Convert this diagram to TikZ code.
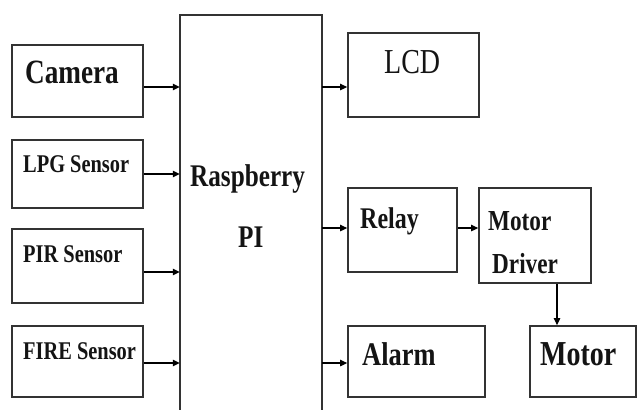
\documentclass[tikz,border=0pt]{standalone}
\usepackage{fontspec}
\usepackage{graphicx}
\setmainfont{LiberationSerif}[Extension=.ttf, UprightFont=*-Regular, BoldFont=*-Bold, ItalicFont=*-Italic, BoldItalicFont=*-BoldItalic]
\usetikzlibrary{arrows.meta}
\definecolor{boxline}{HTML}{333333}
\definecolor{txt}{HTML}{141414}
\newcommand{\nw}[1]{\scalebox{0.8}[1]{#1}}
\tikzset{
  blk/.style={draw=boxline, line width=1.8pt, rectangle, inner sep=0pt},
  arr/.style={draw=black, line width=1.3pt, -{Triangle[length=7pt,width=6.5pt]}},
  lbl/.style={anchor=base west, inner sep=0pt, text=txt, font=\bfseries},
}
\begin{document}
\begin{tikzpicture}[x=1pt,y=-1pt]
\useasboundingbox (0,0) rectangle (638,410);
\fill[white] (0,0) rectangle (638,410);
% boxes
\node[blk, minimum width=131, minimum height=72] (cam) at (77.5,81) {};
\node[blk, minimum width=131, minimum height=68] (lpg) at (77.5,174) {};
\node[blk, minimum width=131, minimum height=74] (pir) at (77.5,266) {};
\node[blk, minimum width=131, minimum height=71] (fire) at (77.5,361.5) {};
\node[inner sep=0pt, minimum width=142, minimum height=400] (rpi) at (251,215) {};
\draw[boxline, line width=1.8pt] (rpi.south west) -- (rpi.north west) -- (rpi.north east) -- (rpi.south east);
\node[blk, minimum width=131, minimum height=84] (lcd) at (413.5,75) {};
\node[blk, minimum width=109, minimum height=84] (relay) at (402.5,230) {};
\node[blk, minimum width=112, minimum height=95] (drv) at (535,235.5) {};
\node[blk, minimum width=137, minimum height=71] (alarm) at (416.5,361.5) {};
\node[blk, minimum width=106, minimum height=71] (motor) at (583,361.5) {};
% labels
\node[lbl, font=\bfseries\fontsize{34}{34}\selectfont] (tcam) at (25,83) {\nw{Camera}};
\node[lbl, font=\bfseries\fontsize{25.5}{25.5}\selectfont] (tlpg) at (23,172) {\nw{LPG Sensor}};
\node[lbl, font=\bfseries\fontsize{25.5}{25.5}\selectfont] (tpir) at (23,262) {\nw{PIR Sensor}};
\node[lbl, font=\bfseries\fontsize{25.5}{25.5}\selectfont] (tfire) at (23,359) {\nw{FIRE Sensor}};
\node[lbl, font=\bfseries\fontsize{31.5}{31.5}\selectfont] (trasp) at (190,186) {\nw{Raspberry}};
\node[lbl, font=\bfseries\fontsize{31.5}{31.5}\selectfont] (tpi) at (238,247) {\nw{PI}};
\node[lbl, font=\fontsize{35}{35}\selectfont] (tlcd) at (384,73) {\nw{LCD}};
\node[lbl, font=\bfseries\fontsize{30}{30}\selectfont] (trelay) at (360,228) {\nw{Relay}};
\node[lbl, font=\bfseries\fontsize{29}{29}\selectfont] (tmot1) at (488,230) {\nw{Motor}};
\node[lbl, font=\bfseries\fontsize{29}{29}\selectfont] (tdrv) at (492,273) {\nw{Driver}};
\node[lbl, font=\bfseries\fontsize{33}{33}\selectfont] (talarm) at (362,365) {\nw{Alarm}};
\node[lbl, font=\bfseries\fontsize{35}{35}\selectfont] (tmotor) at (540,365) {\nw{Motor}};
% connectors
\draw[arr] (cam.east |- 0,87) -- (rpi.west |- 0,87);
\draw[arr] (lpg.east |- 0,174) -- (rpi.west |- 0,174);
\draw[arr] (pir.east |- 0,272) -- (rpi.west |- 0,272);
\draw[arr] (fire.east |- 0,363) -- (rpi.west |- 0,363);
\draw[arr] (rpi.east |- 0,87) -- (lcd.west |- 0,87);
\draw[arr] (rpi.east |- 0,228) -- (relay.west |- 0,228);
\draw[arr] (relay.east |- 0,228) -- (drv.west |- 0,228);
\draw[arr] (rpi.east |- 0,363) -- (alarm.west |- 0,363);
\draw[arr] (drv.south -| 557,0) -- (motor.north -| 557,0);
\end{tikzpicture}
\end{document}
